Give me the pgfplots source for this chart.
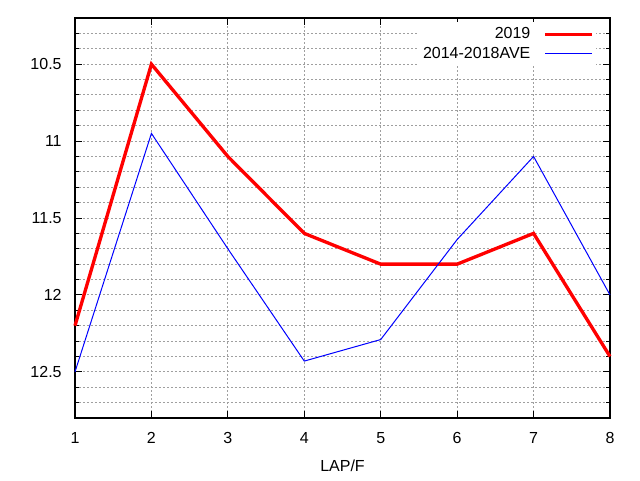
\documentclass[border=0pt]{standalone}
\usepackage{pgfplots}
\pgfplotsset{compat=1.18}
\usepackage{fontspec}
\setmainfont{Liberation Sans}
\begin{document}
\begin{tikzpicture}
\useasboundingbox (-56.25pt,-46.5pt) rectangle (423.75pt,313.5pt);
\begin{axis}[
  at={(0,0)}, anchor=south west,
  scale only axis,
  width=401.25pt, height=300pt,
  xmin=1, xmax=8,
  ymin=10.2, ymax=12.8,
  y dir=reverse,
  xtick={1,2,3,4,5,6,7,8},
  ytick={10.5,11,11.5,12,12.5},
  yticklabels={10.5,11,11.5,12,12.5},
  minor ytick={10.3,10.4,10.6,10.7,10.8,10.9,11.1,11.2,11.3,11.4,11.6,11.7,11.8,11.9,12.1,12.2,12.3,12.4,12.6,12.7},
  tick align=inside,
  major tick length=5pt,
  minor tick length=3pt,
  every tick/.style={black, line width=0.75pt},
  axis line style={black, line width=0.9pt},
  grid=both,
  major grid style={gray!75, line width=0.75pt, dash pattern=on 1.5pt off 1.5pt},
  minor grid style={gray!75, line width=0.75pt, dash pattern=on 1.5pt off 1.5pt},
  /pgf/number format/assume math mode=true,
  tick label style={font=\fontsize{12}{14}\selectfont},
  xticklabel style={yshift=-7pt},
  yticklabel style={xshift=-6.5pt},
  xlabel={LAP/F},
  xlabel style={font=\fontsize{12}{14}\selectfont, at={(axis description cs:0.5,0)}, anchor=center, yshift=-36pt},
  clip=false,
  legend plot pos=right,
  legend cell align=right,
  legend image code/.code={\path (0pt,0pt); \draw[#1] (8pt,0pt) -- (43pt,0pt);},
  legend style={at={(rel axis cs:1,1)}, anchor=north east, xshift=-10pt, yshift=-3pt,
    draw=none, fill=white, font=\fontsize{12}{14}\selectfont,
    row sep=0.75pt, inner sep=2pt, nodes={inner sep=2pt}},
]
\addplot[red, line width=2.5pt] coordinates {
(1,12.2) (2,10.5) (3,11.1) (4,11.6) (5,11.8) (6,11.8) (7,11.6) (8,12.4)};
\addlegendentry{2019}
\addplot[blue, line width=0.75pt] coordinates {
(1,12.5) (2,10.95) (3,11.7) (4,12.43) (5,12.29) (6,11.64) (7,11.1) (8,12.0)};
\addlegendentry{2014-2018AVE}
\end{axis}
\end{tikzpicture}
\end{document}
